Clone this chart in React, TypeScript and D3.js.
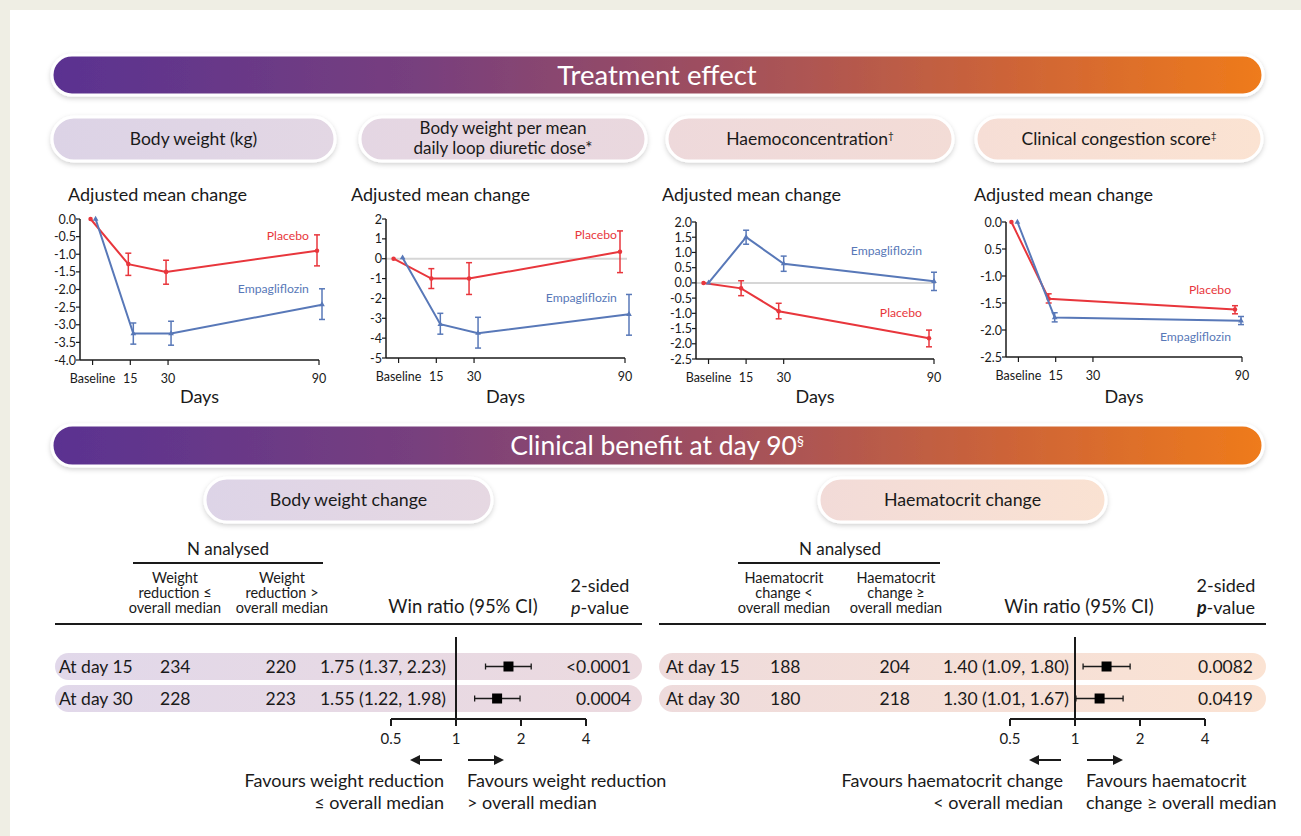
import React from 'react';
import * as d3 from 'd3';

const FONT = "Lato, 'Open Sans', sans-serif";
const RED = '#e8363c';
const BLUE = '#5878b8';
const INK = '#1a1a1a';

// ---------- Treatment effect data ----------
const days = [0, 15, 30, 90];
const dayLabels = ['Baseline', '15', '30', '90'];

// Body weight (kg)
const bwPlacebo = [0, -1.28, -1.5, -0.9];
const bwPlaceboLo = [0, -1.6, -1.85, -1.33];
const bwPlaceboHi = [0, -0.97, -1.17, -0.45];
const bwEmpa = [0, -3.25, -3.25, -2.43];
const bwEmpaLo = [0, -3.55, -3.58, -2.85];
const bwEmpaHi = [0, -2.95, -2.9, -1.98];
const bwTicks = [0, -0.5, -1, -1.5, -2, -2.5, -3, -3.5, -4];
const bwTickLabels = ['0.0', '-0.5', '-1.0', '-1.5', '-2.0', '-2.5', '-3.0', '-3.5', '-4.0'];

// Body weight per mean daily loop diuretic dose
const bdPlacebo = [0, -1.0, -1.0, 0.35];
const bdPlaceboLo = [0, -1.5, -1.8, -0.7];
const bdPlaceboHi = [0, -0.5, -0.2, 1.4];
const bdEmpa = [0.05, -3.3, -3.75, -2.8];
const bdEmpaLo = [0.05, -3.8, -4.5, -3.85];
const bdEmpaHi = [0.05, -2.75, -2.95, -1.8];
const bdTicks = [2, 1, 0, -1, -2, -3, -4, -5];
const bdTickLabels = ['2', '1', '0', '-1', '-2', '-3', '-4', '-5'];

// Haemoconcentration
const hcPlacebo = [0, -0.18, -0.93, -1.82];
const hcPlaceboLo = [0, -0.42, -1.18, -2.1];
const hcPlaceboHi = [0, 0.07, -0.67, -1.55];
const hcEmpa = [0, 1.5, 0.63, 0.05];
const hcEmpaLo = [0, 1.27, 0.38, -0.25];
const hcEmpaHi = [0, 1.73, 0.88, 0.35];
const hcTicks = [2, 1.5, 1, 0.5, 0, -0.5, -1, -1.5, -2, -2.5];
const hcTickLabels = ['2.0', '1.5', '1.0', '0.5', '0.0', '-0.5', '-1.0', '-1.5', '-2.0', '-2.5'];

// Clinical congestion score (placebo not shown at day 30)
const ccPlacebo = [0, -1.42, null, -1.62];
const ccPlaceboLo = [0, -1.5, null, -1.7];
const ccPlaceboHi = [0, -1.33, null, -1.55];
const ccEmpa = [0, -1.77, null, -1.83];
const ccEmpaLo = [0, -1.85, null, -1.9];
const ccEmpaHi = [0, -1.68, null, -1.75];
const ccTicks = [0, -0.5, -1, -1.5, -2, -2.5];
const ccTickLabels = ['0.0', '0.5', '-1.0', '-1.5', '-2.0', '-2.5'];

const panelTitles = [
  ['Body weight (kg)'],
  ['Body weight per mean', 'daily loop diuretic dose*'],
  ['Haemoconcentration', '†'],
  ['Clinical congestion score', '‡'],
];

// ---------- Clinical benefit data ----------
const rowLabels = ['At day 15', 'At day 30'];
const forestTicks = [0.5, 1, 2, 4];

const bwN1 = [234, 228];
const bwN2 = [220, 223];
const bwWR = [1.75, 1.55];
const bwWRLo = [1.37, 1.22];
const bwWRHi = [2.23, 1.98];
const bwP = ['<0.0001', '0.0004'];

const hctN1 = [188, 180];
const hctN2 = [204, 218];
const hctWR = [1.40, 1.30];
const hctWRLo = [1.09, 1.01];
const hctWRHi = [1.80, 1.67];
const hctP = ['0.0082', '0.0419'];

type Series = { v: (number | null)[]; lo: (number | null)[]; hi: (number | null)[] };

const charts = [
  {
    left: 80, right: 319, top: 219, bottom: 360, dom: [-4, 0], titleX: 68,
    ticks: bwTicks, tickLabels: bwTickLabels, zero: false,
    placebo: { v: bwPlacebo, lo: bwPlaceboLo, hi: bwPlaceboHi }, empa: { v: bwEmpa, lo: bwEmpaLo, hi: bwEmpaHi },
    dodge: [-2, 3], pLab: [86.0, -0.48], eLab: [86.0, -1.99],
  },
  {
    left: 386, right: 625, top: 219, bottom: 358, dom: [-5, 2], titleX: 351,
    ticks: bdTicks, tickLabels: bdTickLabels, zero: true,
    placebo: { v: bdPlacebo, lo: bdPlaceboLo, hi: bdPlaceboHi }, empa: { v: bdEmpa, lo: bdEmpaLo, hi: bdEmpaHi },
    dodge: [-5, 4], pLab: [86.8, 1.19], eLab: [86.8, -1.98],
  },
  {
    left: 696, right: 934, top: 222, bottom: 359, dom: [-2.5, 2], titleX: 662,
    ticks: hcTicks, tickLabels: hcTickLabels, zero: true,
    placebo: { v: hcPlacebo, lo: hcPlaceboLo, hi: hcPlaceboHi }, empa: { v: hcEmpa, lo: hcEmpaLo, hi: hcEmpaHi },
    dodge: [-5, 0], pLab: [85.2, -0.99], eLab: [85.2, 1.05],
  },
  {
    left: 1006, right: 1242, top: 222, bottom: 357, dom: [-2.5, 0], titleX: 974,
    ticks: ccTicks, tickLabels: ccTickLabels, zero: false,
    placebo: { v: ccPlacebo, lo: ccPlaceboLo, hi: ccPlaceboHi }, empa: { v: ccEmpa, lo: ccEmpaLo, hi: ccEmpaHi },
    dodge: [-7, -1], pLab: [85.6, -1.26], eLab: [85.6, -2.13],
  },
];

const pills = [
  { x: 52, w: 283, c0: '#dcd3e6', c1: '#e3d7e4' },
  { x: 360, w: 286, c0: '#e4d6e3', c1: '#ead8de' },
  { x: 667, w: 286, c0: '#eed9db', c1: '#f3dcd6' },
  { x: 976, w: 286, c0: '#f6ded6', c1: '#fbe3d2' },
];

function LineChart({ c }: { c: any }) {
  const x = d3.scaleLinear().domain([-5, 90]).range([c.left, c.right]);
  const y = d3.scaleLinear().domain(c.dom).range([c.bottom, c.top]);
  const drawSeries = (s: Series, color: string, dx: number, isEmpa: boolean) => {
    const pts = days
      .map((d, i) => ({ d, v: s.v[i], lo: s.lo[i], hi: s.hi[i] }))
      .filter((p) => p.v !== null) as { d: number; v: number; lo: number; hi: number }[];
    const line = d3.line<any>().x((p) => x(p.d) + dx).y((p) => y(p.v));
    const sym = d3.symbol().type(isEmpa ? d3.symbolTriangle : d3.symbolCircle).size(isEmpa ? 14 : 16);
    return (
      <g>
        <path d={line(pts) || ''} fill="none" stroke={color} strokeWidth={2} />
        {pts.map((p, i) =>
          p.d === 0 ? null : (
            <g key={i} stroke={color} strokeWidth={1.5}>
              <line x1={x(p.d) + dx} x2={x(p.d) + dx} y1={y(p.lo)} y2={y(p.hi)} />
              <line x1={x(p.d) + dx - 3} x2={x(p.d) + dx + 3} y1={y(p.lo)} y2={y(p.lo)} />
              <line x1={x(p.d) + dx - 3} x2={x(p.d) + dx + 3} y1={y(p.hi)} y2={y(p.hi)} />
            </g>
          )
        )}
        {pts.map((p, i) => (
          <path key={'m' + i} d={sym() || ''} transform={`translate(${x(p.d) + dx},${y(p.v)})`} fill={color} />
        ))}
      </g>
    );
  };
  return (
    <g fontFamily={FONT}>
      <text x={c.titleX} y={201} fontSize={18} fill={INK}>Adjusted mean change</text>
      {c.zero && <line x1={c.left} x2={c.right + 2} y1={y(0)} y2={y(0)} stroke="#d6d6d6" strokeWidth={2} />}
      {/* y axis */}
      <line x1={c.left} x2={c.left} y1={c.top} y2={c.bottom} stroke={INK} strokeWidth={1.5} />
      {c.ticks.map((t: number, i: number) => (
        <g key={i}>
          <line x1={c.left - 4} x2={c.left} y1={y(t)} y2={y(t)} stroke={INK} strokeWidth={1.2} />
          <text x={c.left - 4} y={y(t)} dy="0.36em" textAnchor="end" fontSize={12.5} fill={INK}>{c.tickLabels[i]}</text>
        </g>
      ))}
      {/* x axis */}
      <line x1={c.left} x2={c.right} y1={c.bottom} y2={c.bottom} stroke={INK} strokeWidth={1.5} />
      {days.map((d, i) => (
        <g key={i}>
          <line x1={x(d)} x2={x(d)} y1={c.bottom} y2={c.bottom + 5} stroke={INK} strokeWidth={1.2} />
          <text x={x(d)} y={c.bottom + 23} textAnchor="middle" fontSize={12.5} fill={INK}>{dayLabels[i]}</text>
        </g>
      ))}
      <text x={(c.left + c.right) / 2} y={403} textAnchor="middle" fontSize={18} fill={INK}>Days</text>
      {drawSeries(c.placebo, RED, c.dodge[0], false)}
      {drawSeries(c.empa, BLUE, c.dodge[1], true)}
      <text x={x(c.pLab[0])} y={y(c.pLab[1])} dy="0.35em" textAnchor="end" fontSize={12.2} fill={RED}>Placebo</text>
      <text x={x(c.eLab[0])} y={y(c.eLab[1])} dy="0.35em" textAnchor="end" fontSize={12.2} fill={BLUE}>Empagliflozin</text>
    </g>
  );
}

function Pill({ x, y, w, h, c0, c1, id, children }: any) {
  return (
    <g>
      <defs>
        <linearGradient id={id} x1="0" x2="1" y1="0" y2="0">
          <stop offset="0" stopColor={c0} />
          <stop offset="1" stopColor={c1} />
        </linearGradient>
      </defs>
      <rect x={x} y={y} width={w} height={h} rx={h / 2} fill={`url(#${id})`} stroke="#fff" strokeWidth={3} filter="url(#shadow)" />
      {children}
    </g>
  );
}

function Banner({ y, h, children }: any) {
  return (
    <g>
      <rect x={52} y={y} width={1211} height={h} rx={h / 2} fill="url(#bannerGrad)" stroke="#fff" strokeWidth={3} filter="url(#shadow)" />
      {children}
    </g>
  );
}

function Forest(props: any) {
  const { x0, x1, scaleRange, cols, n1, n2, wr, lo, hi, p, rowC0, rowC1, id, hdr1, hdr2, boldP, fav } = props;
  const fx = d3.scaleLog().base(2).domain([0.5, 4]).range(scaleRange);
  const rowY = [653, 685];
  const rowH = 27;
  return (
    <g fontFamily={FONT} fill={INK}>
      <defs>
        <linearGradient id={id} x1="0" x2="1" y1="0" y2="0">
          <stop offset="0" stopColor={rowC0} />
          <stop offset="1" stopColor={rowC1} />
        </linearGradient>
      </defs>
      <text x={cols.nMid} y={555} textAnchor="middle" fontSize={17}>N analysed</text>
      <line x1={cols.nL} x2={cols.nR} y1={563} y2={563} stroke={INK} strokeWidth={2} />
      {[hdr1, hdr2].map((h: string[], k: number) => (
        <text key={k} x={k === 0 ? cols.h1 : cols.h2} textAnchor="middle" fontSize={14.5}>
          {h.map((t, j) => (
            <tspan key={j} x={k === 0 ? cols.h1 : cols.h2} y={583 + j * 15}>{t}</tspan>
          ))}
        </text>
      ))}
      <text x={cols.wr} y={613} textAnchor="middle" fontSize={18.5}>Win ratio (95% CI)</text>
      <text x={cols.pv} y={592} textAnchor="middle" fontSize={18}>2-sided</text>
      <text x={cols.pv} y={614} textAnchor="middle" fontSize={18}>
        <tspan fontStyle="italic" fontWeight={boldP ? 700 : 400}>p</tspan>-value
      </text>
      <line x1={x0} x2={x1} y1={624} y2={624} stroke={INK} strokeWidth={2} />
      {rowLabels.map((r, i) => {
        const cy = rowY[i] + rowH / 2;
        return (
          <g key={i}>
            <rect x={x0} y={rowY[i]} width={x1 - x0} height={rowH} rx={rowH / 2} fill={`url(#${id})`} />
            <text x={cols.lab} y={cy} dy="0.36em" fontSize={17.5}>{r}</text>
            <text x={cols.n1} y={cy} dy="0.36em" fontSize={17.5}>{n1[i]}</text>
            <text x={cols.n2} y={cy} dy="0.36em" fontSize={17.5} textAnchor="end">{n2[i]}</text>
            <text x={cols.ci} y={cy} dy="0.36em" fontSize={17.5} textAnchor="end">
              {`${d3.format('.2f')(wr[i])} (${d3.format('.2f')(lo[i])}, ${d3.format('.2f')(hi[i])})`}
            </text>
            <text x={cols.p} y={cy} dy="0.36em" fontSize={17.5} textAnchor="end">{p[i]}</text>
            <g stroke={INK} strokeWidth={1.3}>
              <line x1={fx(lo[i])} x2={fx(hi[i])} y1={cy} y2={cy} />
              <line x1={fx(lo[i])} x2={fx(lo[i])} y1={cy - 3} y2={cy + 3} />
              <line x1={fx(hi[i])} x2={fx(hi[i])} y1={cy - 3} y2={cy + 3} />
            </g>
            <rect x={fx(wr[i]) - 5} y={cy - 5} width={10} height={10} fill="#000" />
          </g>
        );
      })}
      <line x1={fx(1)} x2={fx(1)} y1={637} y2={719} stroke={INK} strokeWidth={2} />
      <line x1={fx(0.5)} x2={fx(4)} y1={719} y2={719} stroke={INK} strokeWidth={2} />
      {forestTicks.map((t, i) => (
        <g key={i}>
          <line x1={fx(t)} x2={fx(t)} y1={719} y2={726} stroke={INK} strokeWidth={2} />
          <text x={fx(t)} y={744} textAnchor="middle" fontSize={15}>{String(t)}</text>
        </g>
      ))}
      <g stroke={INK} strokeWidth={2} fill="none">
        <line x1={fx(1) - 14} x2={fx(1) - 44} y1={760} y2={760} markerEnd="url(#arrow)" />
        <line x1={fx(1) + 12} x2={fx(1) + 46} y1={760} y2={760} markerEnd="url(#arrow)" />
      </g>
      <text x={fx(1) - 12} y={787} textAnchor="end" fontSize={18}>{fav[0]}</text>
      <text x={fx(1) - 12} y={809} textAnchor="end" fontSize={18}>{fav[1]}</text>
      <text x={fx(1) + 11} y={787} fontSize={18}>{fav[2]}</text>
      <text x={fx(1) + 11} y={809} fontSize={18}>{fav[3]}</text>
    </g>
  );
}

export default function App() {
  return (
    <svg width={1301} height={836} style={{ position: 'absolute', left: 0, top: 0 }} fontFamily={FONT}>
      <defs>
        <linearGradient id="bannerGrad" x1="0" x2="1" y1="0" y2="0">
          <stop offset="0" stopColor="#5a3291" />
          <stop offset="0.3" stopColor="#773f7e" />
          <stop offset="0.55" stopColor="#a04f5e" />
          <stop offset="0.8" stopColor="#cf6536" />
          <stop offset="1" stopColor="#ef7b1b" />
        </linearGradient>
        <filter id="shadow" x="-5%" y="-30%" width="110%" height="170%">
          <feDropShadow dx="0" dy="2" stdDeviation="2.5" floodColor="#000" floodOpacity="0.18" />
        </filter>
        <marker id="arrow" viewBox="0 0 10 10" refX="8" refY="5" markerWidth="5" markerHeight="5" orient="auto">
          <path d="M0,0 L10,5 L0,10 z" fill={INK} />
        </marker>
      </defs>
      <rect x={0} y={0} width={1301} height={836} fill="#efeee4" />
      <rect x={10} y={10} width={1291} height={826} fill="#ffffff" />

      <Banner y={55} h={40}>
        <text x={657} y={75} dy="0.36em" textAnchor="middle" fontSize={27.5} fill="#fff">Treatment effect</text>
      </Banner>

      {pills.map((p, i) => (
        <Pill key={i} x={p.x} y={117} w={p.w} h={44} c0={p.c0} c1={p.c1} id={'pill' + i}>
          {i === 1 ? (
            <text x={p.x + p.w / 2} textAnchor="middle" fontSize={17} fill={INK}>
              <tspan x={p.x + p.w / 2} y={134}>{panelTitles[i][0]}</tspan>
              <tspan x={p.x + p.w / 2} y={154}>{panelTitles[i][1]}</tspan>
            </text>
          ) : (
            <text x={p.x + p.w / 2} y={139} dy="0.36em" textAnchor="middle" fontSize={17.5} fill={INK}>
              {panelTitles[i][0]}
              {panelTitles[i][1] && <tspan dy="-6" fontSize={10}>{panelTitles[i][1]}</tspan>}
            </text>
          )}
        </Pill>
      ))}

      {charts.map((c, i) => <LineChart key={i} c={c} />)}

      <Banner y={425} h={41}>
        <text x={657} y={445} dy="0.36em" textAnchor="middle" fontSize={26.5} fill="#fff">
          Clinical benefit at day 90<tspan dy="-9" fontSize={14}>§</tspan>
        </text>
      </Banner>

      <Pill x={205} y={478} w={287} h={44} c0="#ddd4e7" c1="#e6d8e2" id="bpill0">
        <text x={348.5} y={500} dy="0.36em" textAnchor="middle" fontSize={17.8} fill={INK}>Body weight change</text>
      </Pill>
      <Pill x={819} y={478} w={287} h={44} c0="#f2dbd8" c1="#fae2d2" id="bpill1">
        <text x={962.5} y={500} dy="0.36em" textAnchor="middle" fontSize={17.8} fill={INK}>Haematocrit change</text>
      </Pill>

      <Forest
        id="rowL" x0={55} x1={642} scaleRange={[391, 586]}
        cols={{ nMid: 228, nL: 133, nR: 323, h1: 175, h2: 282, wr: 463, pv: 600, lab: 59, n1: 160, n2: 296, ci: 446, p: 631 }}
        n1={bwN1} n2={bwN2} wr={bwWR} lo={bwWRLo} hi={bwWRHi} p={bwP}
        rowC0="#e1d8ea" rowC1="#ecdadf"
        hdr1={['Weight', 'reduction ≤', 'overall median']}
        hdr2={['Weight', 'reduction >', 'overall median']}
        boldP={false}
        fav={['Favours weight reduction', '≤ overall median', 'Favours weight reduction', '> overall median']}
      />
      <Forest
        id="rowR" x0={659} x1={1266} scaleRange={[1010, 1205]}
        cols={{ nMid: 840, nL: 738, nR: 940, h1: 784, h2: 896, wr: 1079, pv: 1226, lab: 666, n1: 770, n2: 910, ci: 1069, p: 1253 }}
        n1={hctN1} n2={hctN2} wr={hctWR} lo={hctWRLo} hi={hctWRHi} p={hctP}
        rowC0="#eedbdc" rowC1="#fbe3d3"
        hdr1={['Haematocrit', 'change <', 'overall median']}
        hdr2={['Haematocrit', 'change ≥', 'overall median']}
        boldP={true}
        fav={['Favours haematocrit change', '< overall median', 'Favours haematocrit', 'change ≥ overall median']}
      />
    </svg>
  );
}
